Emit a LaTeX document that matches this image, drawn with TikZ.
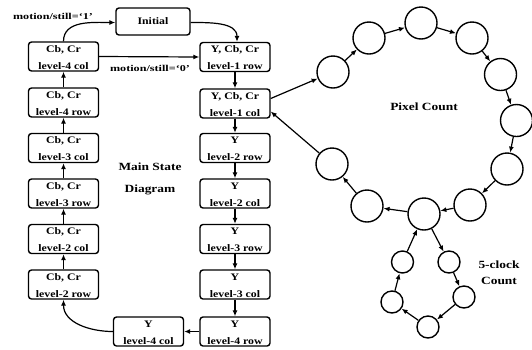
\documentclass[tikz,border=0pt]{standalone}
\usepackage{fontspec}
\setmainfont{Liberation Serif}
\newfontfamily\boxfont[FakeStretch=1.18]{Liberation Serif}
\newfontfamily\bigfont[FakeStretch=1.22]{Liberation Serif}
\newfontfamily\motfont[FakeStretch=1.35]{Liberation Serif}
\usetikzlibrary{arrows.meta}
\tikzset{
  stbox/.style={draw, line width=1.4pt, rounded corners=3pt, minimum width=70pt, minimum height=29pt, inner sep=0pt},
  boxtxt/.style={inner sep=0pt, font=\boxfont\bfseries\fontsize{10}{12}\selectfont},
  bigtxt/.style={inner sep=0pt, font=\bigfont\bfseries\fontsize{11}{13}\selectfont},
  mottxt/.style={inner sep=0pt, font=\motfont\bfseries\fontsize{9}{11}\selectfont},
  bigc/.style={draw, circle, line width=1.4pt, minimum size=32pt, inner sep=0pt},
  smallc/.style={draw, circle, line width=1.4pt, minimum size=22pt, inner sep=0pt},
  arr/.style={line width=1.2pt, -{Latex[length=6pt,width=5pt]}},
}
\newcommand\stbox[5]{%
  \node[stbox] (#1) at (#2,-#3) {};
  \node[boxtxt, anchor=base] (#1t) at ([yshift=-11pt]#1.north) {#4};
  \node[boxtxt, anchor=base] (#1b) at ([yshift=2.5pt]#1.south) {#5};
}
\begin{document}
\begin{tikzpicture}[x=1pt,y=1pt]
\useasboundingbox (0,0) rectangle (532,-349);
% left column
\stbox{L1}{63.5}{56.5}{Cb, Cr}{level-4 col}
\stbox{L2}{63.5}{102.5}{Cb, Cr}{level-4 row}
\stbox{L3}{63.5}{148}{Cb, Cr}{level-3 col}
\stbox{L4}{63.5}{193.5}{Cb, Cr}{level-3 row}
\stbox{L5}{63.5}{239}{Cb, Cr}{level-2 col}
\stbox{L6}{63.5}{284.5}{Cb, Cr}{level-2 row}
% right column
\stbox{R1}{235}{57}{Y, Cb, Cr}{level-1 row}
\stbox{R2}{235}{103.5}{Y, Cb, Cr}{level-1 col}
\stbox{R3}{235}{148}{Y}{level-2 row}
\stbox{R4}{235}{193.5}{Y}{level-2 col}
\stbox{R5}{235}{239}{Y}{level-3 row}
\stbox{R6}{235}{284.5}{Y}{level-3 col}
\stbox{R7}{235}{331.5}{Y}{level-4 row}
\stbox{B}{148.5}{331.5}{Y}{level-4 col}
\node[stbox, minimum width=74pt, minimum height=27pt, font=\boxfont\bfseries\fontsize{10}{12}\selectfont] (init) at (153,-21.5) {Initial};
% labels
\node[mottxt] (m1) at (53,-16) {motion/still=‘1’};
\node[mottxt] (m0) at (150,-68) {motion/still=‘0’};
\node[bigtxt] (ms1) at (150,-167) {Main State};
\node[bigtxt] (ms2) at (150,-190) {Diagram};
\node[bigtxt] (pc) at (424,-107) {Pixel Count};
\node[bigtxt] (fc1) at (499,-265) {5-clock};
\node[bigtxt] (fc2) at (499,-281) {Count};
% main arrows
\draw[arr] (L2) -- (L1);
\draw[arr] (L3) -- (L2);
\draw[arr] (L4) -- (L3);
\draw[arr] (L5) -- (L4);
\draw[arr] (L6) -- (L5);
\draw[arr] (R1) -- (R2);
\draw[arr] (R2) -- (R3);
\draw[arr] (R3) -- (R4);
\draw[arr] (R4) -- (R5);
\draw[arr] (R5) -- (R6);
\draw[arr] (R6) -- (R7);
\draw[arr] (R7) -- (B);
\draw[arr] (B.west) to[out=180, in=-90] (L6.south);
\draw[arr] (L1.north) to[out=90, in=180] ([yshift=-1pt]init.west);
\draw[arr] ([yshift=-1pt]init.east) to[out=0, in=90] ([xshift=2pt]R1.north);
\draw[arr] (L1.east) -- (R1.west);
% circles
\node[bigc] (c1) at (333,-72) {};
\node[bigc] (c2) at (369,-38) {};
\node[bigc] (c3) at (421,-23) {};
\node[bigc] (c4) at (472,-38) {};
\node[bigc] (c5) at (500.5,-74.5) {};
\node[bigc] (c6) at (516.5,-120.5) {};
\node[bigc] (c7) at (507,-169) {};
\node[bigc] (c8) at (470,-205) {};
\node[bigc] (c9) at (424,-214) {};
\node[bigc] (c10) at (367,-206) {};
\node[bigc] (c11) at (332,-164) {};
\node[smallc] (s1) at (402.5,-262) {};
\node[smallc] (s2) at (449,-262) {};
\node[smallc] (s3) at (464,-297) {};
\node[smallc] (s4) at (428,-327) {};
\node[smallc] (s5) at (392,-302) {};
\draw[arr] ([yshift=5pt]R2.east) -- (c1);
\draw[arr] (c1) -- (c2);
\draw[arr] (c2) -- (c3);
\draw[arr] (c3) -- (c4);
\draw[arr] (c4) -- (c5);
\draw[arr] (c5) -- (c6);
\draw[arr] (c6) -- (c7);
\draw[arr] (c7) -- (c8);
\draw[arr] (c8) -- (c9);
\draw[arr] (c9) -- (c10);
\draw[arr] (c10) -- (c11);
\draw[arr] (c11) -- ([yshift=-8pt]R2.east);
\draw[arr] (c9) -- (s2);
\draw[arr] (s2) -- (s3);
\draw[arr] (s3) -- (s4);
\draw[arr] (s4) -- (s5);
\draw[arr] (s5) -- (s1);
\draw[arr] (s1) -- (c9);
\end{tikzpicture}
\end{document}
